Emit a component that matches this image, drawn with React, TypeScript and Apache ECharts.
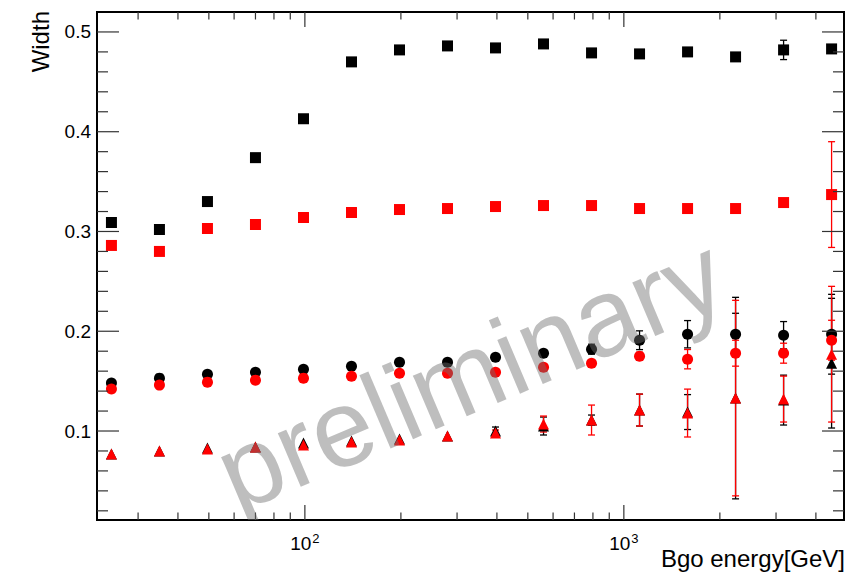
import React, { useEffect, useRef } from "react";
import * as echarts from "echarts";

const energies = [24.75, 35, 49.5, 70, 99, 140, 198, 280, 396, 560, 792, 1120, 1584, 2240, 3168, 4480];

const blackSquares = [0.309, 0.302, 0.330, 0.374, 0.413, 0.470, 0.482, 0.486, 0.484, 0.488, 0.479, 0.478, 0.480, 0.475, 0.482, 0.483];
const blackSquaresErr = [0, 0, 0, 0, 0, 0, 0, 0, 0, 0, 0, 0, 0, 0, 0.0097, 0];
const redSquares = [0.286, 0.280, 0.303, 0.307, 0.314, 0.319, 0.322, 0.323, 0.325, 0.326, 0.326, 0.323, 0.323, 0.323, 0.329, 0.337];
const redSquaresErr = [0, 0, 0, 0, 0, 0, 0, 0, 0, 0, 0, 0, 0, 0, 0, 0.053];

const blackCircles = [0.148, 0.153, 0.157, 0.159, 0.162, 0.165, 0.169, 0.169, 0.174, 0.178, 0.182, 0.191, 0.197, 0.197, 0.196, 0.197];
const blackCirclesErr = [0, 0, 0, 0, 0, 0, 0, 0, 0, 0, 0.005, 0.0094, 0.0137, 0.021, 0.0137, 0.04];
const redCircles = [0.142, 0.146, 0.149, 0.151, 0.153, 0.155, 0.158, 0.158, 0.159, 0.164, 0.168, 0.175, 0.172, 0.178, 0.178, 0.191];
const redCirclesErr = [0, 0, 0, 0, 0, 0, 0, 0, 0, 0, 0, 0.004, 0.0097, 0.013, 0.01, 0.02];

const blackTriangles = [0.077, 0.080, 0.083, 0.084, 0.088, 0.090, 0.092, 0.095, 0.100, 0.105, 0.111, 0.121, 0.119, 0.133, 0.131, 0.168];
const blackTrianglesErr = [0, 0, 0, 0, 0, 0, 0, 0, 0.004, 0.009, 0.005, 0.016, 0.0175, 0.101, 0.025, 0.065];
const redTriangles = [0.077, 0.080, 0.082, 0.084, 0.086, 0.089, 0.091, 0.095, 0.098, 0.107, 0.111, 0.121, 0.118, 0.133, 0.132, 0.177];
const redTrianglesErr = [0, 0, 0, 0, 0, 0, 0, 0, 0.003, 0.008, 0.015, 0.016, 0.024, 0.098, 0.023, 0.068];

const yTickLabels = [0.1, 0.2, 0.3, 0.4, 0.5];
const yMinorTicks = [0.02, 0.04, 0.06, 0.08, 0.12, 0.14, 0.16, 0.18, 0.22, 0.24, 0.26, 0.28, 0.32, 0.34, 0.36, 0.38, 0.42, 0.44, 0.46, 0.48];
const xMajorTicks = [100, 1000];
const xMinorTicks = [30, 40, 50, 60, 70, 80, 90, 200, 300, 400, 500, 600, 700, 800, 900, 2000, 3000, 4000];

const X_MIN = 22.3;
const X_MAX = 4900;
const Y_MIN = 0.0108;
const Y_MAX = 0.52;

const FONT = "'Liberation Sans', Arial, Helvetica, sans-serif";

function pairs(vals: number[]) {
  return energies.map((e, i) => [e, vals[i]]);
}
function errTriples(vals: number[], errs: number[]) {
  return energies.map((e, i) => [e, vals[i], errs[i]]);
}

function errorSeries(data: number[][], color: string) {
  return {
    type: "custom",
    clip: true,
    data,
    renderItem: (params: any, api: any) => {
      const x = api.value(0);
      const y = api.value(1);
      const e = api.value(2);
      if (!e) return null;
      const top = api.coord([x, y + e]);
      const bot = api.coord([x, y - e]);
      const cw = 3.5;
      const st = { stroke: color, lineWidth: 1.3 };
      return {
        type: "group",
        children: [
          { type: "line", shape: { x1: top[0], y1: top[1], x2: bot[0], y2: bot[1] }, style: st },
          { type: "line", shape: { x1: top[0] - cw, y1: top[1], x2: top[0] + cw, y2: top[1] }, style: st },
          { type: "line", shape: { x1: bot[0] - cw, y1: bot[1], x2: bot[0] + cw, y2: bot[1] }, style: st },
        ],
      };
    },
  };
}

function xTickSeries(values: number[], len: number) {
  return {
    type: "custom",
    clip: false,
    silent: true,
    z: 5,
    data: values.map((v) => [v, Y_MIN]),
    renderItem: (params: any, api: any) => {
      const p = api.coord([api.value(0), api.value(1)]);
      const cs = params.coordSys;
      const st = { stroke: "#333", lineWidth: 1.2 };
      const b = cs.y + cs.height;
      return {
        type: "group",
        children: [
          { type: "line", shape: { x1: p[0], y1: b, x2: p[0], y2: b - len }, style: st },
          { type: "line", shape: { x1: p[0], y1: cs.y, x2: p[0], y2: cs.y + len }, style: st },
        ],
      };
    },
  };
}

function yTickSeries(values: number[], len: number) {
  return {
    type: "custom",
    clip: false,
    silent: true,
    z: 5,
    data: values.map((v) => [X_MIN, v]),
    renderItem: (params: any, api: any) => {
      const p = api.coord([api.value(0), api.value(1)]);
      const cs = params.coordSys;
      const st = { stroke: "#333", lineWidth: 1.2 };
      const r = cs.x + cs.width;
      return {
        type: "group",
        children: [
          { type: "line", shape: { x1: cs.x, y1: p[1], x2: cs.x + len, y2: p[1] }, style: st },
          { type: "line", shape: { x1: r, y1: p[1], x2: r - len, y2: p[1] }, style: st },
        ],
      };
    },
  };
}

function scatter(vals: number[], symbol: string, color: string, size: number) {
  return {
    type: "scatter",
    symbol,
    symbolSize: size,
    itemStyle: { color, opacity: 1 },
    data: pairs(vals),
    silent: true,
  };
}

const watermarkSeries = {
  type: "custom",
  clip: true,
  silent: true,
  z: 10,
  data: [[X_MIN, Y_MIN]],
  renderItem: (params: any) => {
    const cs = params.coordSys;
    return {
      type: "text",
      x: cs.x + 373,
      y: cs.y + 361,
      rotation: (23 * Math.PI) / 180,
      style: {
        text: "preliminary",
        fontSize: 110,
        fontFamily: FONT,
        fill: "rgba(110,110,110,0.45)",
        textAlign: "center",
        textVerticalAlign: "middle",
      },
    };
  },
};

export default function App() {
  const ref = useRef<HTMLDivElement>(null);
  useEffect(() => {
    if (!ref.current) return;
    const chart = echarts.init(ref.current, null, { renderer: "svg" });
    chart.setOption({
      animation: false,
      backgroundColor: "#fff",
      textStyle: { fontFamily: FONT },
      grid: {
        left: 97,
        right: 8,
        top: 12,
        bottom: 55,
        show: true,
        borderColor: "#000",
        borderWidth: 2,
        backgroundColor: "transparent",
      },
      xAxis: {
        type: "log",
        logBase: 10,
        min: X_MIN,
        max: X_MAX,
        axisLine: { show: false },
        axisTick: { show: false },
        splitLine: { show: false },
        minorTick: { show: false },
        axisLabel: {
          showMinLabel: false,
          showMaxLabel: false,
          margin: 12,
          color: "#000",
          fontFamily: FONT,
          fontSize: 19,
          formatter: (v: number) => {
            const l = Math.log10(v);
            const r = Math.round(l);
            if (Math.abs(l - r) < 1e-6 && (r === 2 || r === 3)) return "10{s|" + r + "}";
            return "";
          },
          rich: {
            s: { fontSize: 13, fontFamily: FONT, color: "#000", verticalAlign: "top", padding: [0, 0, 10, 1] },
          },
        },
      },
      yAxis: {
        type: "value",
        min: Y_MIN,
        max: Y_MAX,
        axisLine: { show: false },
        axisTick: { show: false },
        splitLine: { show: false },
        axisLabel: {
          customValues: yTickLabels,
          margin: 6,
          color: "#000",
          fontFamily: FONT,
          fontSize: 19,
          formatter: (v: number) => v.toFixed(1),
        },
      },
      graphic: [
        {
          type: "text",
          x: 40,
          y: 11,
          rotation: Math.PI / 2,
          style: {
            text: "Width",
            fontSize: 24,
            fontFamily: FONT,
            fill: "#000",
            textAlign: "right",
            textVerticalAlign: "middle",
          },
        },
        {
          type: "text",
          x: 845,
          y: 558,
          style: {
            text: "Bgo energy[GeV]",
            fontSize: 24,
            fontFamily: FONT,
            fill: "#000",
            textAlign: "right",
            textVerticalAlign: "middle",
          },
        },
      ],
      series: [
        xTickSeries(xMajorTicks, 15),
        xTickSeries(xMinorTicks, 7.5),
        yTickSeries(yTickLabels, 22),
        yTickSeries(yMinorTicks, 11),
        errorSeries(
          [
            ...errTriples(blackSquares, blackSquaresErr),
            ...errTriples(blackCircles, blackCirclesErr),
            ...errTriples(blackTriangles, blackTrianglesErr),
          ],
          "#000"
        ),
        scatter(blackSquares, "rect", "#000", 11),
        scatter(blackCircles, "circle", "#000", 11),
        scatter(blackTriangles, "triangle", "#000", 11),
        errorSeries(
          [
            ...errTriples(redSquares, redSquaresErr),
            ...errTriples(redCircles, redCirclesErr),
            ...errTriples(redTriangles, redTrianglesErr),
          ],
          "#ff0000"
        ),
        scatter(redSquares, "rect", "#ff0000", 11),
        scatter(redCircles, "circle", "#ff0000", 11),
        scatter(redTriangles, "triangle", "#ff0000", 11),
        watermarkSeries,
      ],
    });
    return () => chart.dispose();
  }, []);
  return (
    <div
      ref={ref}
      style={{ position: "absolute", left: 0, top: 0, width: 852, height: 575, background: "#fff" }}
    />
  );
}
